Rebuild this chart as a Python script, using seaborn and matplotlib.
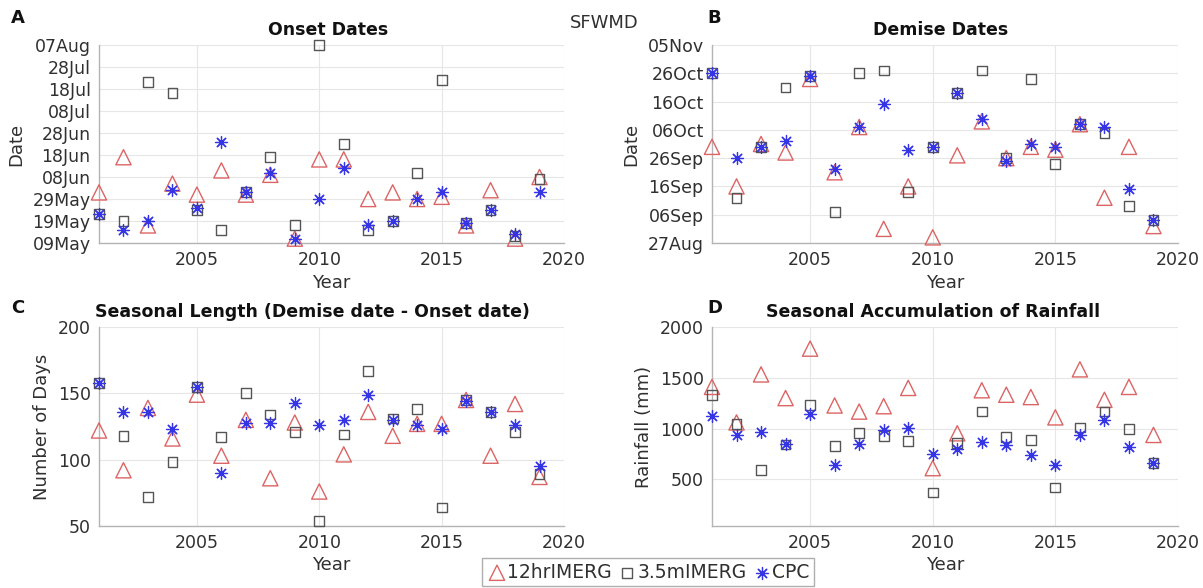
import matplotlib
matplotlib.use("Agg")
import matplotlib.pyplot as plt
import seaborn as sns
import pandas as pd

# ---------------- data ----------------
years = list(range(2001, 2020))

# onset dates (day of year)
onset_12hr = [152, 168, 137, 156, 151, 162, 151, 160, 131, 167, 167, 149, 152, 149, 150, 137, 153, 131, 159]
onset_35m = [142, 139, 202, 197, 144, 135, 152, 168, 137, 219, 174, 135, 139, 161, 203, 138, 144, 132, 158]
onset_cpc = [142, 135, 139, 153, 145, 175, 152, 161, 131, 149, 163, 137, 139, 149, 152, 138, 144, 133, 152]

# demise dates (day of year)
demise_12hr = [273, 259, 274, 271, 297, 264, 280, 244, 259, 241, 270, 282, 269, 273, 272, 281, 255, 273, 245]
demise_35m = [299, 255, 273, 294, 298, 250, 299, 300, 257, 273, 292, 300, 269, 297, 267, 281, 278, 252, 247]
demise_cpc = [299, 269, 273, 275, 298, 265, 280, 288, 272, 273, 292, 283, 268, 274, 273, 281, 280, 258, 247]

# seasonal length (days)
length_12hr = [122, 92, 139, 116, 149, 103, 130, 86, 128, 76, 104, 136, 118, 127, 127, 145, 103, 142, 87]
length_35m = [158, 118, 72, 98, 155, 117, 150, 134, 121, 54, 119, 167, 131, 138, 64, 145, 136, 121, 89]
length_cpc = [158, 136, 136, 123, 155, 90, 128, 128, 143, 126, 130, 149, 130, 126, 123, 144, 136, 126, 95]

# seasonal rainfall (mm)
rain_12hr = [1410, 1060, 1533, 1300, 1787, 1227, 1167, 1220, 1400, 610, 953, 1377, 1333, 1310, 1110, 1583, 1283, 1410, 937]
rain_35m = [1327, 1043, 593, 843, 1233, 827, 953, 927, 877, 370, 860, 1167, 917, 887, 420, 1010, 1167, 993, 660]
rain_cpc = [1127, 937, 970, 843, 1143, 637, 843, 983, 1010, 750, 800, 870, 833, 743, 637, 933, 1087, 820, 660]

series_names = ["12hrIMERG", "3.5mIMERG", "CPC"]

x_ticks = [2005, 2010, 2015, 2020]
onset_ticks = [129, 139, 149, 159, 169, 179, 189, 199, 209, 219]
onset_labels = ["09May", "19May", "29May", "08Jun", "18Jun", "28Jun", "08Jul", "18Jul", "28Jul", "07Aug"]
demise_ticks = [239, 249, 259, 269, 279, 289, 299, 309]
demise_labels = ["27Aug", "06Sep", "16Sep", "26Sep", "06Oct", "16Oct", "26Oct", "05Nov"]
length_ticks = [50, 100, 150, 200]
rain_ticks = [500, 1000, 1500, 2000]

# ---------------- style ----------------
sns.set_theme(style="white")
plt.rcParams["font.family"] = ["DejaVu Sans"]

RED = "#dc6464"
GRAY = "#555555"
BLUE = "#3535e6"
TXT = "#303030"
AXC = "#b4b4b4"
STAR = (8, 2, 0)

W, H = 1203, 588
fig = plt.figure(figsize=(W / 100, H / 100), dpi=100)


def rect(l, t, r, b):
    return [l / W, 1 - b / H, (r - l) / W, (b - t) / H]


axA = fig.add_axes(rect(99, 45, 564, 243))
axB = fig.add_axes(rect(712, 45, 1178, 243))
axC = fig.add_axes(rect(99, 327, 564, 526))
axD = fig.add_axes(rect(712, 327, 1178, 526))


def draw(ax, v12, v35, vcpc):
    df = pd.DataFrame({"Year": years, "a": v12, "b": v35, "c": vcpc})
    sns.scatterplot(data=df, x="Year", y="a", ax=ax, marker="^", s=120,
                    color=RED, facecolor="none", edgecolor=RED, linewidth=1.0,
                    clip_on=False, zorder=3, label=series_names[0])
    sns.scatterplot(data=df, x="Year", y="b", ax=ax, marker="s", s=50,
                    color=GRAY, facecolor="none", edgecolor=GRAY, linewidth=1.0,
                    clip_on=False, zorder=4, label=series_names[1])
    sns.scatterplot(data=df, x="Year", y="c", ax=ax, marker=STAR, s=75,
                    color=BLUE, linewidth=0.9,
                    clip_on=False, zorder=5, label=series_names[2])


def style(ax, yticks, ylabels, ylim, title, ylabel, title_x):
    ax.set_xlim(2001, 2020)
    ax.set_ylim(*ylim)
    ax.set_xticks(x_ticks)
    ax.set_xticklabels([str(t) for t in x_ticks])
    ax.set_yticks(yticks)
    ax.set_yticklabels(ylabels)
    ax.grid(True, color="#e6e6e6", linewidth=0.8)
    ax.set_axisbelow(True)
    for s in ["top", "right"]:
        ax.spines[s].set_visible(False)
    for s in ["left", "bottom"]:
        ax.spines[s].set_color(AXC)
        ax.spines[s].set_linewidth(1.0)
    ax.tick_params(direction="in", length=3, color=AXC, labelsize=12.5,
                   labelcolor=TXT, pad=6)
    ax.set_title(title, fontweight="bold", fontsize=12.5, color="#111111",
                 pad=7, x=title_x)
    ax.set_xlabel("Year", fontsize=13, color=TXT, labelpad=3)
    ax.set_ylabel(ylabel, fontsize=13, color=TXT, labelpad=5)
    if ax.get_legend() is not None:
        ax.get_legend().remove()


draw(axA, onset_12hr, onset_35m, onset_cpc)
draw(axB, demise_12hr, demise_35m, demise_cpc)
draw(axC, length_12hr, length_35m, length_cpc)
draw(axD, rain_12hr, rain_35m, rain_cpc)

handles, labels = axC.get_legend_handles_labels()

style(axA, onset_ticks, onset_labels, (129, 219), "Onset Dates", "Date", 0.493)
style(axB, demise_ticks, demise_labels, (239, 309), "Demise Dates", "Date", 0.49)
style(axC, length_ticks, [str(t) for t in length_ticks], (50, 200),
      "Seasonal Length (Demise date - Onset date)", "Number of Days", 0.458)
style(axD, rain_ticks, [str(t) for t in rain_ticks], (40, 2000),
      "Seasonal Accumulation of Rainfall", "Rainfall (mm)", 0.475)

# panel letters & figure title
for letter, (px, py) in zip("ABCD", [(18, 18), (714, 18), (18, 308), (715, 308)]):
    fig.text(px / W, 1 - py / H, letter, fontsize=13, fontweight="bold",
             color="#111111", ha="center", va="center")
fig.text(604 / W, 1 - 23 / H, "SFWMD", fontsize=13, color=TXT,
         ha="center", va="center")

leg = fig.legend(handles, labels, loc="upper center",
                 bbox_to_anchor=(648 / W, 1 - 558 / H), ncol=3,
                 frameon=True, fancybox=False, edgecolor="#9a9a9a",
                 fontsize=13.5, handletextpad=0.0, columnspacing=0.25,
                 handlelength=1.1, borderpad=0.25, borderaxespad=0)
leg.get_frame().set_linewidth(1.0)
for t in leg.get_texts():
    t.set_color(TXT)

fig.savefig("out.png", dpi=100)
